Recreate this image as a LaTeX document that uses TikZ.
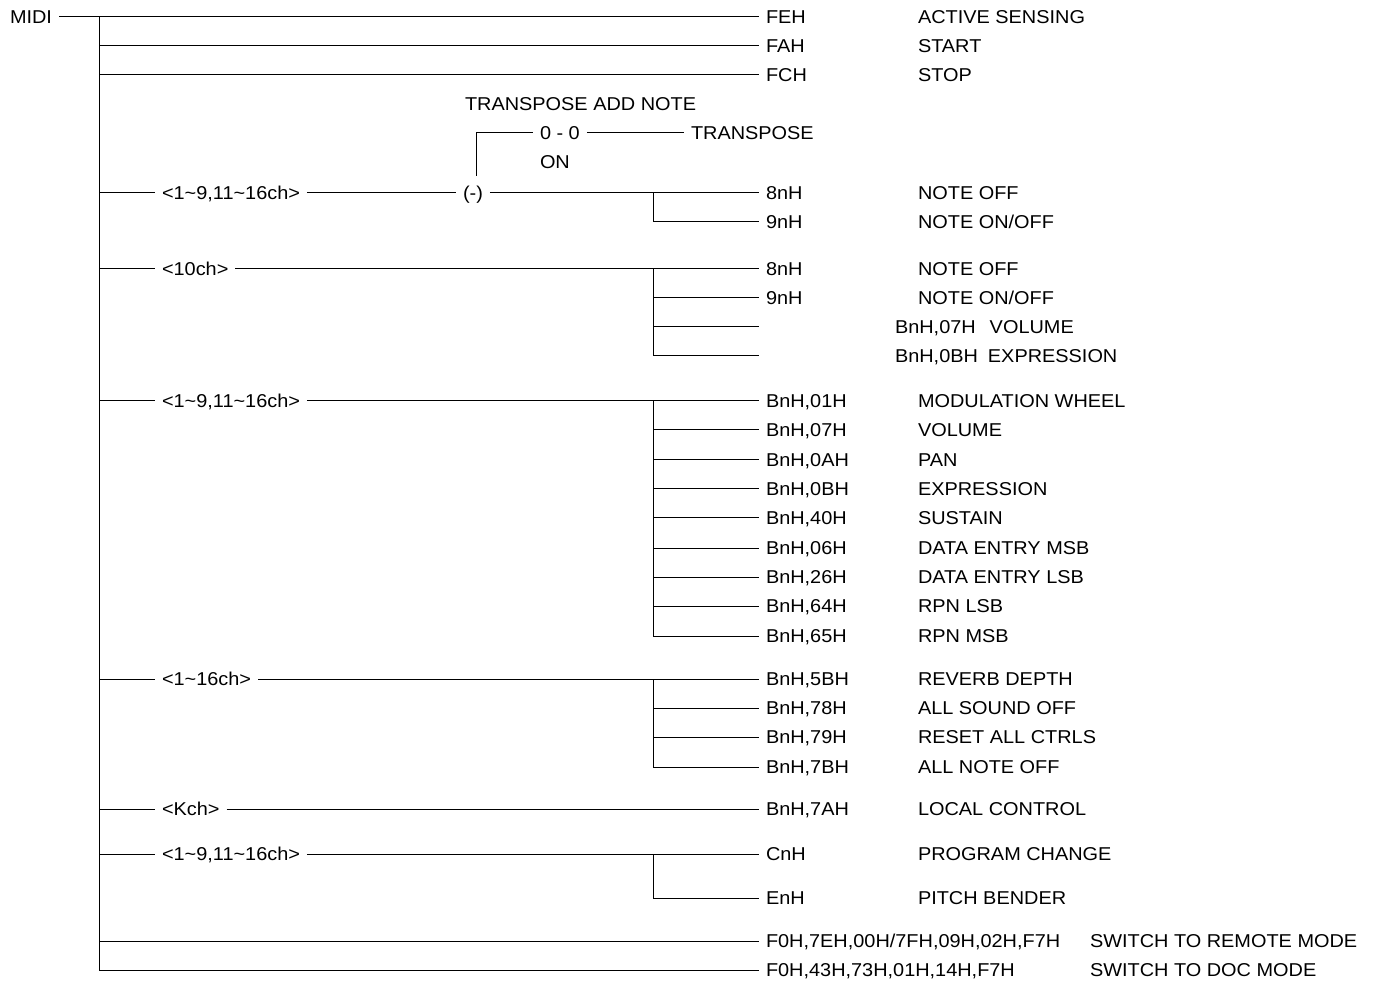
\documentclass[tikz,border=0pt]{standalone}
\usepackage{fontspec}
\setmainfont{Liberation Sans}[FakeStretch=1.07]
\newcommand{\tl}{\textasciitilde}
\begin{document}
\begin{tikzpicture}[x=1pt,y=-1pt,
  lbl/.style={font=\fontsize{18.6}{20}\selectfont, anchor=west, inner sep=0pt,
              outer xsep=7pt, xshift=-7pt, text height=13.3pt, text depth=0pt},
  ln/.style={line width=1pt, black}]
\useasboundingbox (0,0) rectangle (1377,981);

% root and trunk
\node[lbl] (midi) at (10,17) {MIDI};
\coordinate (T0) at (99,17);

% system messages
\node[lbl] (feh) at (766,17) {FEH};  \node[lbl] (dfeh) at (918,17) {ACTIVE SENSING};
\node[lbl] (fah) at (766,46) {FAH};  \node[lbl] (dfah) at (918,46) {START};
\node[lbl] (fch) at (766,75) {FCH};  \node[lbl] (dfch) at (918,75) {STOP};
\draw[ln] (midi) -- (feh);
\draw[ln] (T0 |- fah.west) -- (fah);
\draw[ln] (T0 |- fch.west) -- (fch);

% transpose group
\node[lbl] (tan) at (465,104) {TRANSPOSE ADD NOTE};
\node[lbl] (zz) at (540,133) {0 - 0};
\node[lbl] (tr) at (691,133) {TRANSPOSE};
\node[lbl] (on) at (540,162) {ON};
\node[lbl] (c1) at (162,193) {<1\tl9,11\tl16ch>};
\node[lbl] (pm) at (463,193) {(-)};
\node[lbl] (a8) at (766,193) {8nH}; \node[lbl] (da8) at (918,193) {NOTE OFF};
\node[lbl] (a9) at (766,222) {9nH}; \node[lbl] (da9) at (918,222) {NOTE ON/OFF};
\coordinate (tv) at (476,176);
\coordinate (b1) at (653,193);
\draw[ln] (T0 |- c1.west) -- (c1);
\draw[ln] (c1) -- (pm);
\draw[ln] (pm) -- (a8);
\draw[ln] (b1) |- (a9);
\draw[ln] (tv) |- (zz);
\draw[ln] (zz) -- (tr);

% 10ch group
\node[lbl] (c2) at (162,269) {<10ch>};
\node[lbl] (k8) at (766,269) {8nH}; \node[lbl] (dk8) at (918,269) {NOTE OFF};
\node[lbl] (k9) at (766,298) {9nH}; \node[lbl] (dk9) at (918,298) {NOTE ON/OFF};
\coordinate (k3) at (759,327); \node[lbl] (dk3) at (895,327) {BnH,07H\hspace{14pt}VOLUME};
\coordinate (k4) at (759,356); \node[lbl] (dk4) at (895,356) {BnH,0BH\hspace{10pt}EXPRESSION};
\coordinate (b2) at (653,269);
\draw[ln] (T0 |- c2.west) -- (c2);
\draw[ln] (c2) -- (k8);
\draw[ln] (b2) |- (k9);
\draw[ln] (b2) |- (k3);
\draw[ln] (b2) |- (k4);

% controllers group
\node[lbl] (c3) at (162,401) {<1\tl9,11\tl16ch>};
\node[lbl] (g1) at (766,401) {BnH,01H}; \node[lbl] (dg1) at (918,401) {MODULATION WHEEL};
\node[lbl] (g2) at (766,430) {BnH,07H}; \node[lbl] (dg2) at (918,430) {VOLUME};
\node[lbl] (g3) at (766,460) {BnH,0AH}; \node[lbl] (dg3) at (918,460) {PAN};
\node[lbl] (g4) at (766,489) {BnH,0BH}; \node[lbl] (dg4) at (918,489) {EXPRESSION};
\node[lbl] (g5) at (766,518) {BnH,40H}; \node[lbl] (dg5) at (918,518) {SUSTAIN};
\node[lbl] (g6) at (766,548) {BnH,06H}; \node[lbl] (dg6) at (918,548) {DATA ENTRY MSB};
\node[lbl] (g7) at (766,577) {BnH,26H}; \node[lbl] (dg7) at (918,577) {DATA ENTRY LSB};
\node[lbl] (g8) at (766,606) {BnH,64H}; \node[lbl] (dg8) at (918,606) {RPN LSB};
\node[lbl] (g9) at (766,636) {BnH,65H}; \node[lbl] (dg9) at (918,636) {RPN MSB};
\coordinate (b3) at (653,401);
\draw[ln] (T0 |- c3.west) -- (c3);
\draw[ln] (c3) -- (g1);
\foreach \n in {g2,g3,g4,g5,g6,g7,g8,g9} \draw[ln] (b3) |- (\n);

% 1~16ch group
\node[lbl] (c4) at (162,679) {<1\tl16ch>};
\node[lbl] (h1) at (766,679) {BnH,5BH}; \node[lbl] (dh1) at (918,679) {REVERB DEPTH};
\node[lbl] (h2) at (766,708) {BnH,78H}; \node[lbl] (dh2) at (918,708) {ALL SOUND OFF};
\node[lbl] (h3) at (766,737) {BnH,79H}; \node[lbl] (dh3) at (918,737) {RESET ALL CTRLS};
\node[lbl] (h4) at (766,767) {BnH,7BH}; \node[lbl] (dh4) at (918,767) {ALL NOTE OFF};
\coordinate (b4) at (653,679);
\draw[ln] (T0 |- c4.west) -- (c4);
\draw[ln] (c4) -- (h1);
\foreach \n in {h2,h3,h4} \draw[ln] (b4) |- (\n);

% Kch
\node[lbl] (c5) at (162,809) {<Kch>};
\node[lbl] (m1) at (766,809) {BnH,7AH}; \node[lbl] (dm1) at (918,809) {LOCAL CONTROL};
\draw[ln] (T0 |- c5.west) -- (c5);
\draw[ln] (c5) -- (m1);

% program / pitch
\node[lbl] (c6) at (162,854) {<1\tl9,11\tl16ch>};
\node[lbl] (p1) at (766,854) {CnH}; \node[lbl] (dp1) at (918,854) {PROGRAM CHANGE};
\node[lbl] (p2) at (766,898) {EnH}; \node[lbl] (dp2) at (918,898) {PITCH BENDER};
\coordinate (b6) at (653,854);
\draw[ln] (T0 |- c6.west) -- (c6);
\draw[ln] (c6) -- (p1);
\draw[ln] (b6) |- (p2);

% sysex
\node[lbl] (f1) at (766,941) {F0H,7EH,00H/7FH,09H,02H,F7H}; \node[lbl] (df1) at (1090,941) {SWITCH TO REMOTE MODE};
\node[lbl] (f2) at (766,970) {F0H,43H,73H,01H,14H,F7H}; \node[lbl] (df2) at (1090,970) {SWITCH TO DOC MODE};
\draw[ln] (T0 |- f1.west) -- (f1);
\draw[ln] (T0) |- (f2);
\end{tikzpicture}
\end{document}
